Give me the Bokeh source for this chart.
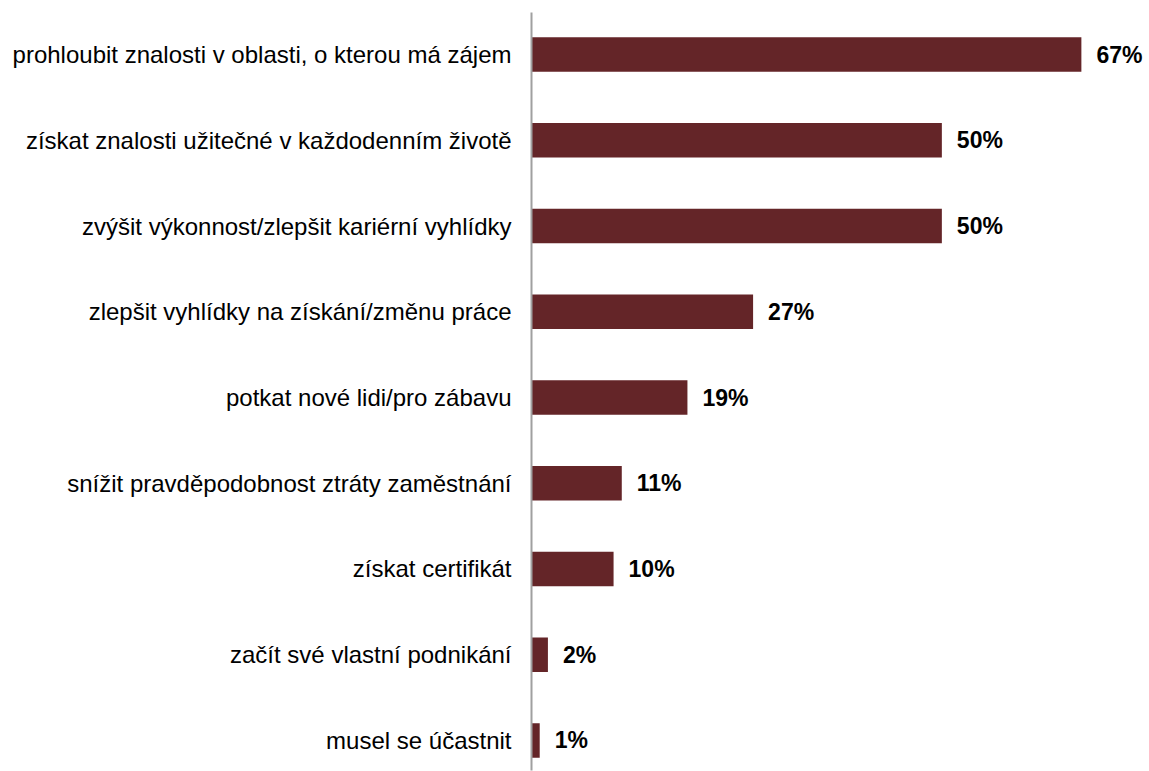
from bokeh.plotting import figure
from bokeh.models import Range1d, LinearAxis, FixedTicker, ColumnDataSource
from bokeh.embed import file_html
from bokeh.resources import INLINE
from bokeh.core.properties import value

categories = [
    "prohloubit znalosti v oblasti, o kterou má zájem",
    "získat znalosti užitečné v každodenním životě",
    "zvýšit výkonnost/zlepšit kariérní vyhlídky",
    "zlepšit vyhlídky na získání/změnu práce",
    "potkat nové lidi/pro zábavu",
    "snížit pravděpodobnost ztráty zaměstnání",
    "získat certifikát",
    "začít své vlastní podnikání",
    "musel se účastnit",
]
values = [67, 50, 50, 27, 19, 11, 10, 2, 1]
value_labels = [f"{v}%" for v in values]

pos = list(range(len(categories)))
src = ColumnDataSource(dict(y=pos, v=values, lab=value_labels))

p = figure(width=1149, height=771, output_backend="svg", toolbar_location=None,
           x_axis_type=None, y_axis_type=None,
           x_range=Range1d(0, 75.3), y_range=Range1d(len(categories) - 1 + 0.35, -0.49),
           min_border_left=531, min_border_right=0, min_border_top=12, min_border_bottom=1)
p.outline_line_color = None
p.xgrid.visible = False
p.ygrid.visible = False

p.hbar(y="y", right="v", left=0, height=0.40, source=src,
       fill_color="#642528", line_color=None)

p.text(x="v", y="y", text="lab", source=src, x_offset=15,
       text_align="left", text_baseline="middle",
       text_font=value("Liberation Sans"), text_font_style="bold",
       text_font_size="23px", text_color="black")

ax = LinearAxis(ticker=FixedTicker(ticks=pos),
                major_label_overrides={i: c for i, c in zip(pos, categories)})
ax.axis_line_color = "#A0A0A0"
ax.axis_line_width = 2
ax.major_tick_line_color = None
ax.minor_tick_line_color = None
ax.major_tick_out = 0
ax.major_tick_in = 0
ax.major_label_standoff = 20
ax.major_label_text_font = "Liberation Sans"
ax.major_label_text_font_size = "24px"
ax.major_label_text_color = "black"
p.add_layout(ax, "left")

open("out.html", "w").write(file_html(p, INLINE))
